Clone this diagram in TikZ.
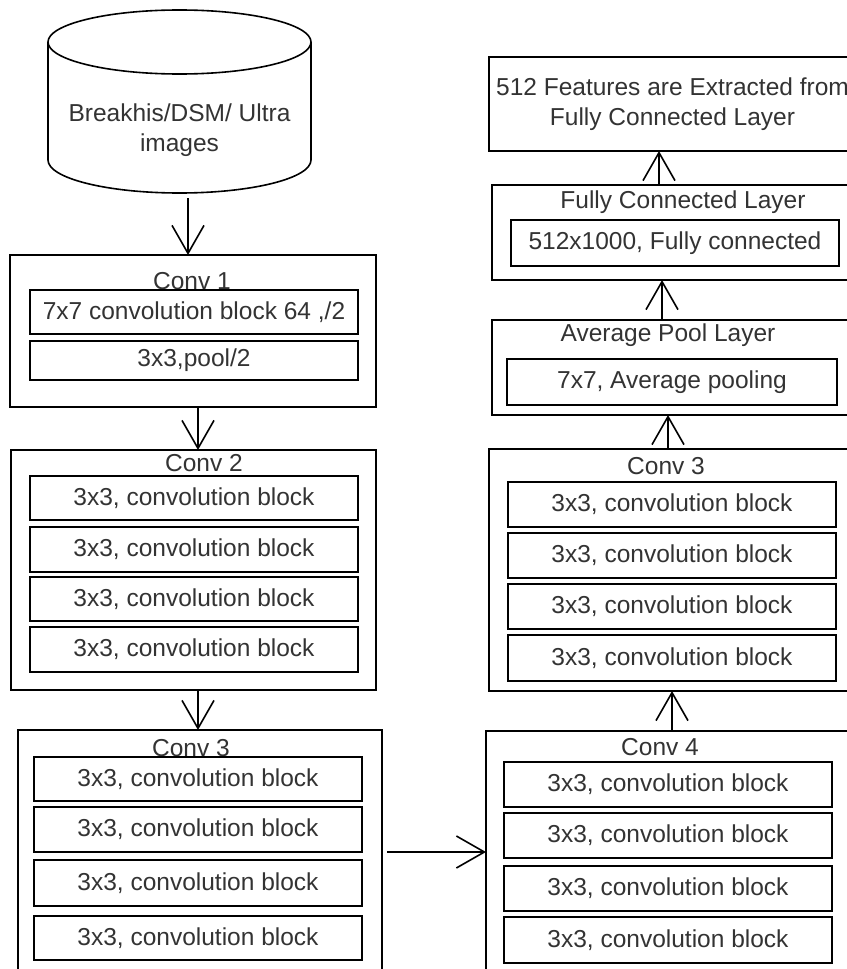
\documentclass[tikz,border=0pt]{standalone}
\usepackage{fontspec}
\setmainfont{Liberation Sans}
\usetikzlibrary{arrows.meta}
\definecolor{txt}{RGB}{51,51,51}
\newcommand\fsz{\fontsize{24.5pt}{30pt}\selectfont}
\newcommand\mybox[7]{\node[#1, minimum width={(#5)-(#3)}, minimum height={(#6)-(#4)}] (#2) at ({((#3)+(#5))/2},{((#4)+(#6))/2}) {#7};}
\begin{document}
\begin{tikzpicture}[x=1pt,y=-1pt,
  outerbox/.style={draw=black, line width=1.6pt, fill=white, inner sep=0pt, outer sep=0pt, text=txt, font=\fsz, align=center},
  innerbox/.style={draw=black, line width=1.6pt, fill=white, inner sep=0pt, outer sep=0pt, text=txt, font=\fsz},
  lbl/.style={text=txt, font=\fsz, inner sep=0pt, align=center},
  arr/.style={line width=1.6pt, draw=black, -{Straight Barb[length=28pt,width=32pt]}}]
\useasboundingbox (0,0) rectangle (846,969);
% database cylinder
\draw[line width=1.6pt] (179.5,42) ellipse [x radius=131.5, y radius=32];
\draw[line width=1.6pt] (48,42) -- (48,160) arc[start angle=180, end angle=0, x radius=131.5, y radius=33] -- (311,42);
\node[lbl] (db) at (179.5,130) {Breakhis/DSM/ Ultra\\images};
\coordinate (dbout) at (188,198);
% Conv 1
\mybox{outerbox}{c1}{10}{255}{376}{407}{}
\node[lbl] (c1l) at (192,281) {Conv 1};
\mybox{innerbox}{c1a}{30}{290}{358}{334}{7x7 convolution block 64 ,/2}
\mybox{innerbox}{c1b}{30}{341}{358}{380}{3x3,pool/2}
% Conv 2
\mybox{outerbox}{c2}{11}{450}{376}{690}{}
\node[lbl] (c2l) at (204,463) {Conv 2};
\mybox{innerbox}{c2a}{30}{476}{358}{520}{3x3, convolution block}
\mybox{innerbox}{c2b}{30}{527}{358}{572}{3x3, convolution block}
\mybox{innerbox}{c2c}{30}{577}{358}{621}{3x3, convolution block}
\mybox{innerbox}{c2d}{30}{627}{358}{672}{3x3, convolution block}
% Conv 3 (left)
\mybox{outerbox}{c3}{18}{730}{382}{976}{}
\node[lbl] (c3l) at (191,748) {Conv 3};
\mybox{innerbox}{c3a}{34}{757}{362}{801}{3x3, convolution block}
\mybox{innerbox}{c3b}{34}{807}{362}{852}{3x3, convolution block}
\mybox{innerbox}{c3c}{34}{860}{362}{906}{3x3, convolution block}
\mybox{innerbox}{c3d}{34}{916}{362}{960}{3x3, convolution block}
% Output box
\mybox{outerbox}{out}{489}{57}{856}{151}{512 Features are Extracted from\\Fully Connected Layer}
% Fully connected
\mybox{outerbox}{fc}{492}{185}{858}{280}{}
\node[lbl] (fcl) at (683,202) {Fully Connected Layer};
\mybox{innerbox}{fca}{511}{220}{839}{266}{512x1000, Fully connected}
% Average pool
\mybox{outerbox}{avg}{492}{320}{856}{415}{}
\node[lbl] (avgl) at (668,335) {Average Pool Layer};
\mybox{innerbox}{avga}{507}{359}{837}{405}{7x7, Average pooling}
% Conv 3 (right)
\mybox{outerbox}{r3}{489}{449}{856}{691}{}
\node[lbl] (r3l) at (666,466) {Conv 3};
\mybox{innerbox}{r3a}{508}{482}{836}{527}{3x3, convolution block}
\mybox{innerbox}{r3b}{508}{533}{836}{578}{3x3, convolution block}
\mybox{innerbox}{r3c}{508}{584}{836}{629}{3x3, convolution block}
\mybox{innerbox}{r3d}{508}{635}{836}{681}{3x3, convolution block}
% Conv 4
\mybox{outerbox}{c4}{486}{731}{856}{976}{}
\node[lbl] (c4l) at (660,747) {Conv 4};
\mybox{innerbox}{c4a}{504}{762}{832}{807}{3x3, convolution block}
\mybox{innerbox}{c4b}{504}{813}{832}{858}{3x3, convolution block}
\mybox{innerbox}{c4c}{504}{866}{832}{911}{3x3, convolution block}
\mybox{innerbox}{c4d}{504}{917}{832}{963}{3x3, convolution block}
% connectors
\coordinate (k2) at (198,0);
\coordinate (k4) at (672,0);
\coordinate (k5) at (668,0);
\coordinate (k6) at (662,0);
\coordinate (k7) at (659,0);
\coordinate (h1) at (387,852);
\draw[arr] (dbout) -- (dbout |- c1.north);
\draw[arr] (c1.south -| k2) -- (c2.north -| k2);
\draw[arr] (c2.south -| k2) -- (c3.north -| k2);
\draw[arr] (h1) -- (h1 -| c4.west);
\draw[arr] (c4.north -| k4) -- (r3.south -| k4);
\draw[arr] (r3.north -| k5) -- (avg.south -| k5);
\draw[arr] (avg.north -| k6) -- (fc.south -| k6);
\draw[arr] (fc.north -| k7) -- (out.south -| k7);
\end{tikzpicture}
\end{document}
